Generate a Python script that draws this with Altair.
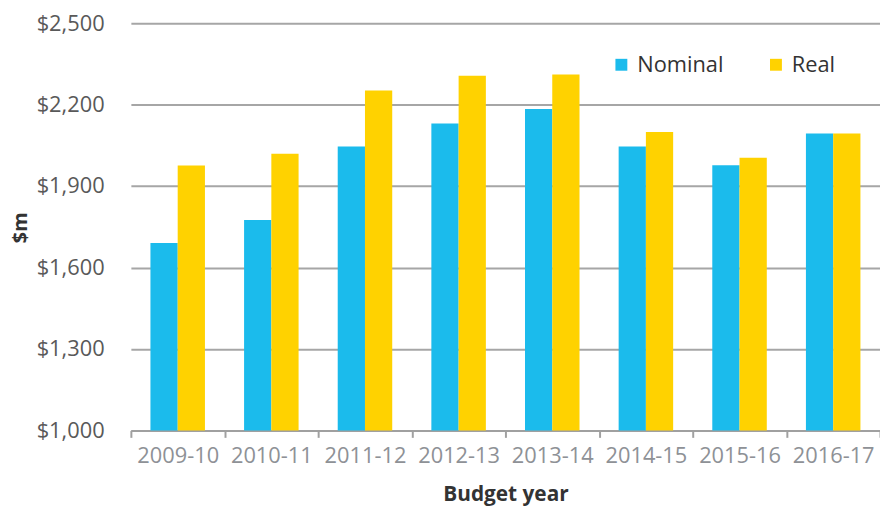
import altair as alt
import pandas as pd

years = ["2009-10", "2010-11", "2011-12", "2012-13", "2013-14", "2014-15", "2015-16", "2016-17"]
nominal = [1690, 1775, 2046, 2130, 2184, 2046, 1977, 2094]
real = [1976, 2019, 2252, 2306, 2311, 2099, 2004, 2094]
series = ["Nominal", "Real"]
colors = ["#1BBBEC", "#FFD200"]

rows = []
for i, y in enumerate(years):
    rows.append({"year": y, "series": "Nominal", "value": nominal[i]})
    rows.append({"year": y, "series": "Real", "value": real[i]})
df = pd.DataFrame(rows)

FONT = "Open Sans"

bars = alt.Chart(df).mark_bar(clip=True).encode(
    x=alt.X("year:N", sort=years,
            scale=alt.Scale(paddingInner=0, paddingOuter=0),
            axis=alt.Axis(title="Budget year", labelAngle=0, labelFontSize=22,
                          labelColor="#8E9196", labelPadding=8, tickBand="extent",
                          ticks=True, tickSize=7, tickColor="#A0A0A0", tickWidth=2,
                          domainColor="#A0A0A0", domainWidth=2, grid=False,
                          titleFontSize=21, titleFontWeight="bold", titleColor="#333333",
                          titleY=71, titleBaseline="alphabetic")),
    xOffset=alt.XOffset("series:N", sort=series,
                        scale=alt.Scale(paddingInner=0, paddingOuter=0.718)),
    y=alt.Y("value:Q",
            scale=alt.Scale(domain=[1000, 2500], nice=False, zero=False),
            axis=alt.Axis(title="$m", values=[1000, 1300, 1600, 1900, 2200, 2500],
                          format="$,d", labelFontSize=22, labelColor="#595959",
                          labelPadding=27, ticks=False, domain=False,
                          grid=True, gridColor="#A6A6A6", gridWidth=2,
                          titleFontSize=20, titleFontWeight="bold", titleColor="#333333",
                          titleX=-111, titleY=206, titleAngle=-90,
                          titleAlign="center", titleBaseline="middle")),
    color=alt.Color("series:N", sort=series,
                    scale=alt.Scale(domain=series, range=colors),
                    legend=alt.Legend(title=None, orient="none", legendX=484, legendY=31,
                                      direction="horizontal", symbolType="square",
                                      symbolSize=144, symbolStrokeWidth=0,
                                      labelFontSize=22, labelColor="#333333",
                                      labelOffset=5, columnPadding=42, labelFont=FONT)),
).properties(width=756, height=411)

chart = bars.properties(
    autosize=alt.AutoSizeParams(type="none"),
    padding={"left": 124, "top": 13, "right": 0, "bottom": 75},
).configure(font=FONT).configure_view(stroke=None)

chart.save("out.html", embed_options={"renderer": "svg", "actions": False})
